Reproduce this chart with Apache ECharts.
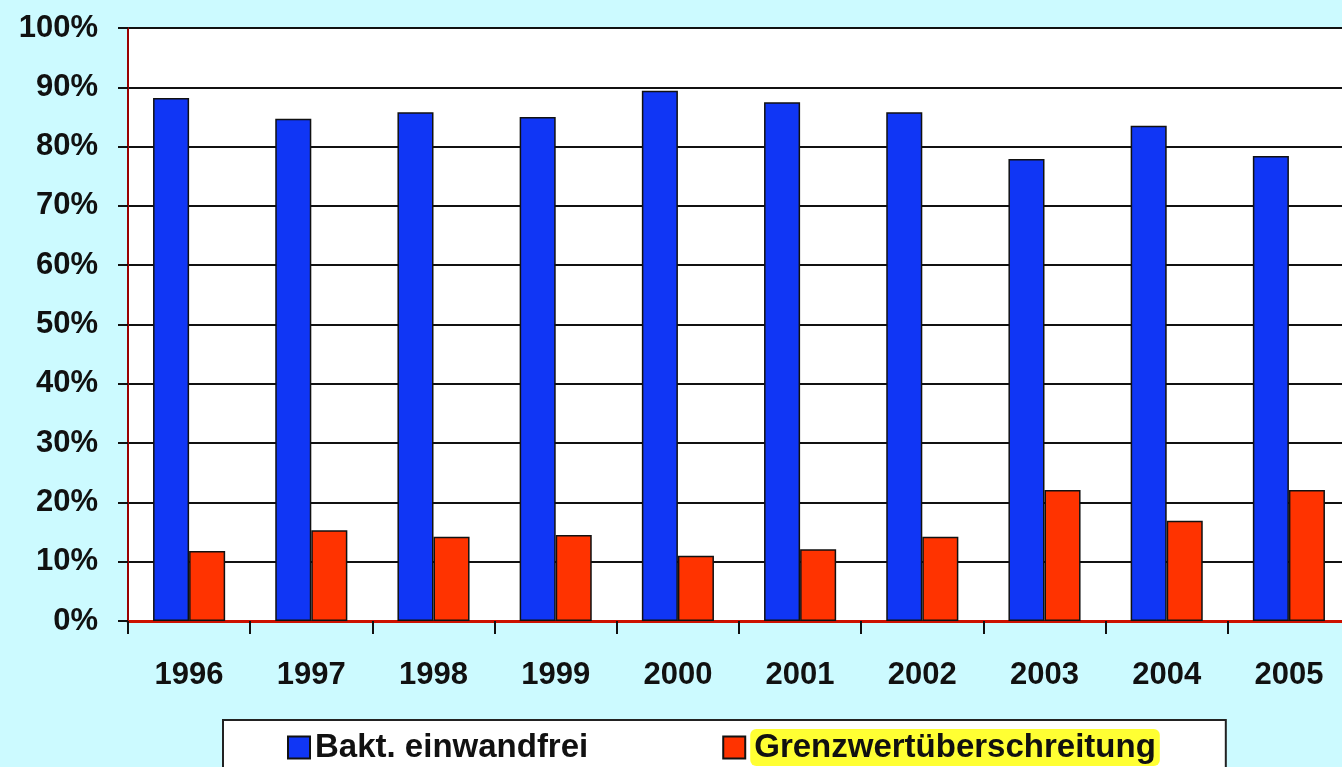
<!DOCTYPE html>
<html>
<head>
<meta charset="utf-8">
<style>
  html, body { margin: 0; padding: 0; background: #ccfaff; overflow: hidden; }
  /* the plot runs a few pixels past the right edge of the window */
  #main { width: 1350px; height: 767px; }
</style>
<script src="https://cdn.jsdelivr.net/npm/echarts@6/dist/echarts.min.js"></script>
</head>
<body>
<div id="main"></div>
<script>
'use strict';

var years = ['1996', '1997', '1998', '1999', '2000', '2001', '2002', '2003', '2004', '2005'];
var einwandfrei = [88.2, 84.7, 85.8, 85.0, 89.4, 87.5, 85.8, 77.9, 83.5, 78.4];
var grenzwert = [11.8, 15.3, 14.2, 14.5, 11.0, 12.1, 14.2, 22.1, 16.9, 22.1];
var seriesNames = ['Bakt. einwandfrei', 'Grenzwertüberschreitung'];

var font = 'Liberation Sans, Arial, sans-serif';
var chart = echarts.init(document.getElementById('main'));

var option = {
    backgroundColor: '#ccfaff',
    animation: false,
    grid: {
        left: 128,
        top: 28,
        right: 0,
        bottom: 146,
        show: true,
        backgroundColor: '#ffffff',
        borderWidth: 0
    },
    legend: {
        data: seriesNames,
        left: 223,
        top: 720,
        orient: 'horizontal',
        icon: 'rect',
        itemWidth: 22,
        itemHeight: 22,
        itemGap: 134,
        padding: [9, 66, 40, 64],
        backgroundColor: '#ffffff',
        borderColor: '#222222',
        borderWidth: 2,
        selectedMode: false,
        formatter: function (name) {
            return name === seriesNames[1] ? '{hl|' + name + '}' : '{n|' + name + '}';
        },
        textStyle: {
            fontFamily: font,
            fontWeight: 'bold',
            fontSize: 33,
            color: '#111111',
            rich: {
                n: {
                    fontFamily: font,
                    fontWeight: 'bold',
                    fontSize: 33,
                    color: '#111111',
                    width: 272
                },
                hl: {
                    fontFamily: font,
                    fontWeight: 'bold',
                    fontSize: 33,
                    color: '#111111',
                    backgroundColor: '#ffff33',
                    borderRadius: 6,
                    padding: [2, 4]
                }
            }
        }
    },
    xAxis: {
        type: 'category',
        data: years,
        axisLine: { lineStyle: { color: '#cc1100', width: 3 } },
        axisTick: { show: true, length: 13, lineStyle: { color: '#111111', width: 2 } },
        axisLabel: {
            margin: 39,
            fontFamily: font,
            fontWeight: 'bold',
            fontSize: 31,
            color: '#111111'
        },
        splitLine: { show: false }
    },
    yAxis: {
        type: 'value',
        min: 0,
        max: 100,
        interval: 10,
        axisLine: { show: true, lineStyle: { color: '#990000', width: 2 } },
        axisTick: { show: true, length: 10, lineStyle: { color: '#111111', width: 2 } },
        axisLabel: {
            formatter: '{value}%',
            margin: 30,
            fontFamily: font,
            fontWeight: 'bold',
            fontSize: 31,
            color: '#111111'
        },
        splitLine: { show: true, lineStyle: { color: '#111111', width: 2 } }
    },
    series: [
        {
            name: seriesNames[0],
            type: 'bar',
            data: einwandfrei,
            barGap: '0%',
            barCategoryGap: '41%',
            itemStyle: { color: '#1036f5', borderColor: '#111111', borderWidth: 1.5 }
        },
        {
            name: seriesNames[1],
            type: 'bar',
            data: grenzwert,
            barGap: '0%',
            barCategoryGap: '41%',
            itemStyle: { color: '#ff3300', borderColor: '#111111', borderWidth: 1.5 }
        }
    ]
};

chart.setOption(option);
</script>
</body>
</html>
